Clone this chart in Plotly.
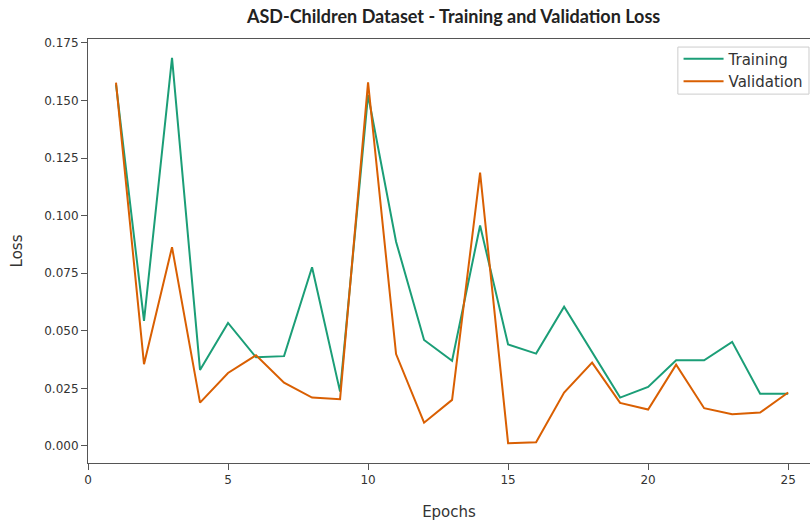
import plotly.graph_objects as go

epochs = list(range(1, 26))
training_loss = [0.157, 0.0543, 0.1685, 0.0330, 0.0534, 0.0385, 0.0390, 0.0776, 0.0236, 0.1524,
                 0.0887, 0.0460, 0.0370, 0.0957, 0.0441, 0.0401, 0.0605, 0.0410, 0.0210, 0.0256,
                 0.0372, 0.0372, 0.0452, 0.0227, 0.0227]
validation_loss = [0.1578, 0.0355, 0.0863, 0.0188, 0.0317, 0.0394, 0.0275, 0.0210, 0.0203, 0.1579,
                   0.0399, 0.0101, 0.0200, 0.1187, 0.0012, 0.0016, 0.0232, 0.0362, 0.0187, 0.0158,
                   0.0353, 0.0164, 0.0138, 0.0145, 0.0232]
x_ticks = [0, 5, 10, 15, 20, 25]
y_ticks = [0.0, 0.025, 0.05, 0.075, 0.1, 0.125, 0.15, 0.175]

fig = go.Figure()
fig.add_trace(go.Scatter(x=epochs, y=training_loss, mode="lines", name="Training",
                         line=dict(color="#1b9e77", width=2)))
fig.add_trace(go.Scatter(x=epochs, y=validation_loss, mode="lines", name="Validation",
                         line=dict(color="#d95f02", width=2)))

axis_common = dict(showgrid=False, zeroline=False, showline=True, linecolor="#555555", linewidth=1,
                   ticks="outside", ticklen=6, tickcolor="#555555", tickwidth=1,
                   tickfont=dict(family="DejaVu Sans", size=12, color="#333333"))

fig.update_xaxes(range=[0, 25.78], tickvals=x_ticks, mirror=True,
                 title=dict(text="Epochs", font=dict(family="DejaVu Sans", size=15, color="#333333"), standoff=20),
                 **axis_common)
fig.update_yaxes(range=[-0.0074, 0.1767], tickvals=y_ticks, tickformat=".3f",
                 title=dict(text="Loss", font=dict(family="DejaVu Sans", size=15, color="#333333"), standoff=17),
                 **axis_common)

# legend frame (matplotlib-style compact box)
fig.add_shape(type="rect", xref="paper", yref="paper", x0=0.817, x1=0.9986, y0=0.870, y1=0.981,
              line=dict(color="#cccccc", width=1), fillcolor="white", layer="below")

fig.update_layout(
    width=810, height=523,
    margin=dict(l=88, r=0, t=39, b=60),
    paper_bgcolor="white", plot_bgcolor="white",
    title=dict(text="<b>ASD-Children Dataset - Training and Validation Loss</b>",
               x=0.56, xanchor="center", y=0.968, yanchor="middle",
               font=dict(family="Lato", size=18, color="#222222")),
    legend=dict(x=0.998, xanchor="right", y=0.992, yanchor="top",
                bgcolor="rgba(0,0,0,0)", borderwidth=0,
                font=dict(family="DejaVu Sans", size=15, color="#333333"),
                tracegroupgap=0, itemwidth=40),
    showlegend=True,
)

fig.write_html("out.html")
